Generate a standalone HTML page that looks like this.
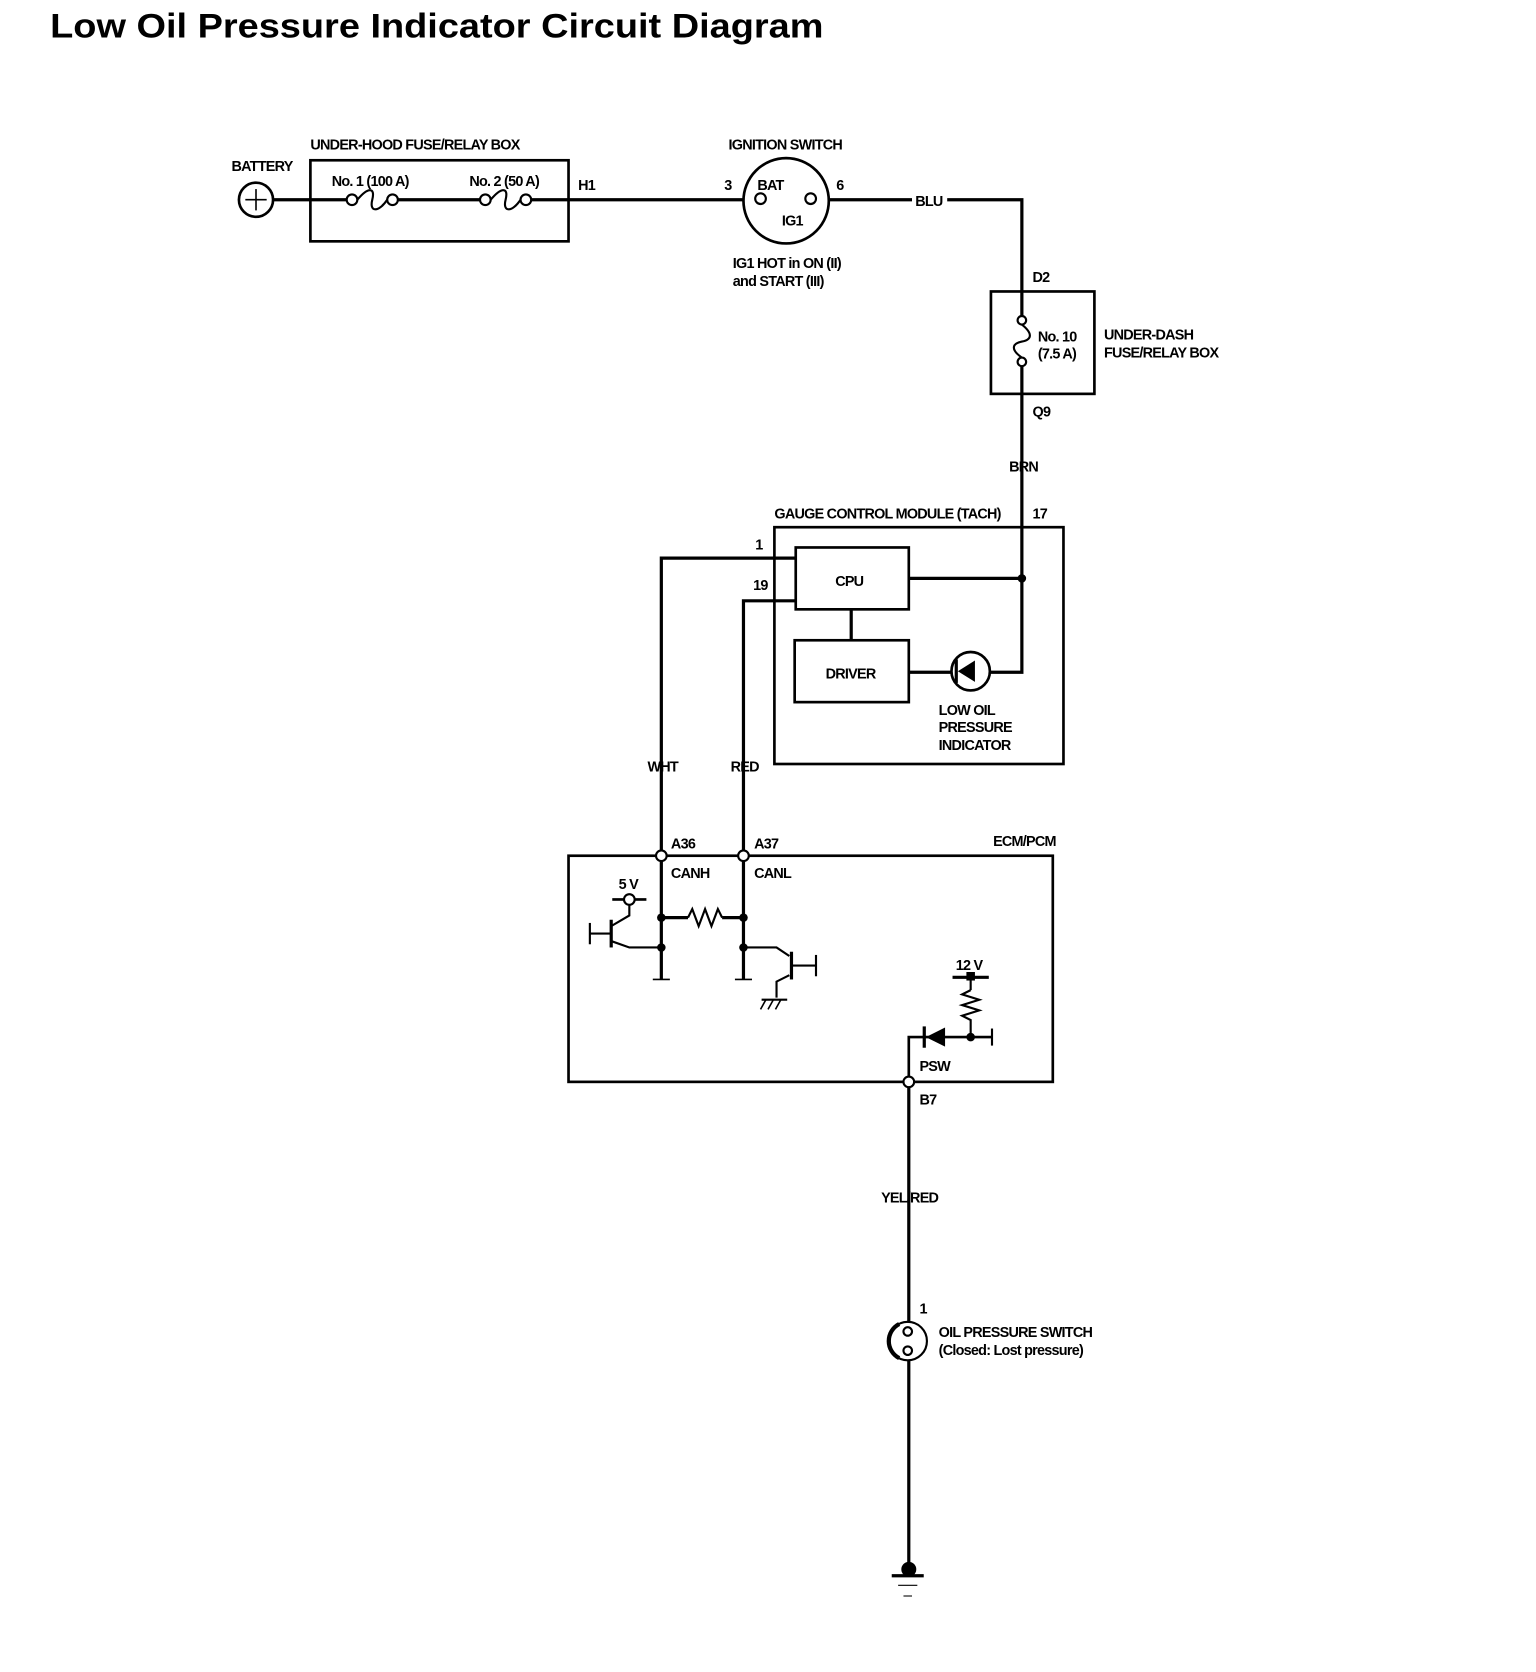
<!DOCTYPE html>
<html><head><style>
html,body{margin:0;padding:0;background:#fff;}
svg{display:block}
text{font-family:"Liberation Sans Narrow","Liberation Sans",sans-serif;font-weight:bold;font-size:13.5px;letter-spacing:-0.7px;fill:#000}
</style></head><body>
<svg width="1536" height="1672" viewBox="0 0 1440 1567" xmlns="http://www.w3.org/2000/svg">
<g fill="none" stroke="#000" stroke-width="3">
<circle cx="240" cy="187" r="16" stroke-width="2.5"/>
<line x1="230" y1="187" x2="250" y2="187" stroke-width="1.5"/><line x1="240" y1="177" x2="240" y2="197" stroke-width="1.5"/>
<rect x="291" y="150" width="242" height="76" stroke-width="2.5"/>
<line x1="256" y1="187" x2="325" y2="187"/>
<circle cx="330" cy="187" r="5" stroke-width="2"/>
<path d="M335 187 C345 175,352 175,349 187 C346 199,355 199,363 187" stroke-width="2"/>
<circle cx="368" cy="187" r="5" stroke-width="2"/>
<line x1="373" y1="187" x2="450" y2="187"/>
<circle cx="455" cy="187" r="5" stroke-width="2"/>
<path d="M460 187 C470 175,477 175,474 187 C471 199,480 199,488 187" stroke-width="2"/>
<circle cx="493" cy="187" r="5" stroke-width="2"/>
<line x1="498" y1="187" x2="698" y2="187"/>
<circle cx="737" cy="188" r="40" stroke-width="2.5"/>
<circle cx="713" cy="186" r="5" stroke-width="2"/>
<circle cx="760" cy="186" r="5" stroke-width="2"/>
<line x1="777" y1="187" x2="855" y2="187"/>
<polyline points="888,187 958,187 958,300"/>
<rect x="929" y="273" width="97" height="96" stroke-width="2.5"/>
<circle cx="958" cy="300" r="4" stroke-width="2" fill="#fff"/>
<path d="M958 304 C968 312,968 318,958 320 C948 322,948 328,958 335" stroke-width="2"/>
<circle cx="958" cy="339" r="4" stroke-width="2" fill="#fff"/>
<polyline points="958,343 958,630 928,630"/>
<rect x="726" y="494" width="271" height="222" stroke-width="2.5"/>
<rect x="746" y="513" width="106" height="58" stroke-width="2.5"/>
<rect x="745" y="600" width="107" height="58" stroke-width="2.5"/>
<line x1="798" y1="571" x2="798" y2="600"/>
<line x1="852" y1="542" x2="958" y2="542"/>
<line x1="852" y1="630" x2="892" y2="630"/>
<circle cx="910" cy="629" r="18" stroke-width="2.5"/>
<polyline points="620,802 620,523 746,523"/>
<polyline points="697,802 697,563 746,563"/>
<rect x="533" y="802" width="454" height="212" stroke-width="2.5"/>
<line x1="620" y1="807" x2="620" y2="918"/>
<line x1="697" y1="807" x2="697" y2="918"/>
<line x1="620" y1="860" x2="645" y2="860"/>
<path d="M645 860 L649 852 L655 868 L661 852 L667 868 L673 852 L677 860" stroke-width="2"/>
<line x1="677" y1="860" x2="697" y2="860"/>
<line x1="612" y1="918" x2="628" y2="918" stroke-width="1.5"/>
<line x1="689" y1="918" x2="705" y2="918" stroke-width="1.5"/>
<line x1="553" y1="865" x2="553" y2="885" stroke-width="2"/>
<line x1="553" y1="875" x2="573" y2="875" stroke-width="2"/>
<line x1="573" y1="862" x2="573" y2="888" stroke-width="3"/>
<polyline points="573,868 590,858 590,848" stroke-width="2"/>
<polyline points="573,882 590,888 620,888" stroke-width="2"/>
<circle cx="590" cy="843" r="5" stroke-width="2"/>
<line x1="574" y1="843" x2="585" y2="843" stroke-width="2.5"/>
<line x1="595" y1="843" x2="606" y2="843" stroke-width="2.5"/>
<polyline points="697,888 728,888 740,896" stroke-width="2"/>
<line x1="742" y1="892" x2="742" y2="918" stroke-width="3"/>
<polyline points="740,914 728,920 728,935" stroke-width="2"/>
<line x1="742" y1="905" x2="765" y2="905" stroke-width="2"/>
<line x1="765" y1="895" x2="765" y2="915" stroke-width="2"/>
<line x1="714" y1="937" x2="738" y2="937" stroke-width="2"/>
<path d="M718 937 l-5 9 M725 937 l-5 9 M732 937 l-5 9" stroke-width="1.5"/>
<line x1="893" y1="916" x2="927" y2="916" stroke-width="3"/>
<line x1="910" y1="916" x2="910" y2="928" stroke-width="2"/>
<path d="M910 928 L902 932 L918 937 L902 942 L918 947 L902 952 L910 956 L910 972" stroke-width="2"/>
<polyline points="852,1009 852,972 930,972" stroke-width="2.5"/>
<line x1="930" y1="964" x2="930" y2="980" stroke-width="2"/>
<circle cx="852" cy="1014" r="5" stroke-width="2" fill="#fff"/>
<line x1="852" y1="1019" x2="852" y2="1240"/>
<circle cx="851" cy="1257" r="18" stroke-width="2"/>
<path d="M843 1241 A18 18 0 0 0 843 1273" stroke-width="4"/>
<circle cx="851" cy="1248" r="4" stroke-width="2"/>
<circle cx="851" cy="1266" r="4" stroke-width="2"/>
<line x1="852" y1="1275" x2="852" y2="1472"/>
<line x1="836" y1="1477" x2="866" y2="1477" stroke-width="3"/>
<line x1="842" y1="1486" x2="860" y2="1486" stroke-width="1"/>
<line x1="847" y1="1496" x2="855" y2="1496" stroke-width="1"/>
<circle cx="620" cy="802" r="5" stroke-width="2" fill="#fff"/>
<circle cx="697" cy="802" r="5" stroke-width="2" fill="#fff"/>
</g>
<g fill="#000">
<circle cx="958" cy="542" r="4"/>
<circle cx="620" cy="860" r="4"/><circle cx="620" cy="888" r="4"/>
<circle cx="697" cy="860" r="4"/><circle cx="697" cy="888" r="4"/>
<circle cx="910" cy="972" r="4"/>
<circle cx="852" cy="1471" r="7"/>
<polygon points="898,629 914,619 914,639"/>
<rect x="895" y="618" width="3" height="22"/>
<polygon points="868,972 886,963 886,981"/>
<rect x="865" y="962" width="3" height="20"/>
<rect x="906" y="911" width="8" height="8"/>
</g>
<text x="47" y="35" style="font-family:'Liberation Sans',sans-serif;font-size:32px;letter-spacing:0" textLength="725" lengthAdjust="spacingAndGlyphs">Low Oil Pressure Indicator Circuit Diagram</text>
<text x="217" y="160">BATTERY</text>
<text x="291" y="140">UNDER-HOOD FUSE/RELAY BOX</text>
<text x="311" y="174">No. 1 (100 A)</text>
<text x="440" y="174">No. 2 (50 A)</text>
<text x="542" y="178">H1</text>
<text x="683" y="140">IGNITION SWITCH</text>
<text x="679" y="178">3</text>
<text x="710" y="178">BAT</text>
<text x="784" y="178">6</text>
<text x="733" y="211">IG1</text>
<text x="687" y="251">IG1 HOT in ON (II)</text>
<text x="687" y="268">and START (III)</text>
<text x="858" y="193">BLU</text>
<text x="968" y="264">D2</text>
<text x="973" y="320">No. 10</text>
<text x="973" y="336">(7.5 A)</text>
<text x="1035" y="318">UNDER-DASH</text>
<text x="1035" y="335">FUSE/RELAY BOX</text>
<text x="968" y="390">Q9</text>
<text x="946" y="442">BRN</text>
<text x="726" y="486">GAUGE CONTROL MODULE (TACH)</text>
<text x="968" y="486">17</text>
<text x="708" y="515">1</text>
<text x="706" y="553">19</text>
<text x="783" y="549">CPU</text>
<text x="774" y="636">DRIVER</text>
<text x="880" y="670">LOW OIL</text>
<text x="880" y="686">PRESSURE</text>
<text x="880" y="703">INDICATOR</text>
<text x="607" y="723">WHT</text>
<text x="685" y="723">RED</text>
<text x="931" y="793">ECM/PCM</text>
<text x="629" y="795">A36</text>
<text x="707" y="795">A37</text>
<text x="629" y="823">CANH</text>
<text x="707" y="823">CANL</text>
<text x="580" y="833">5 V</text>
<text x="896" y="909">12 V</text>
<text x="862" y="1004">PSW</text>
<text x="862" y="1035">B7</text>
<text x="826" y="1127">YEL/RED</text>
<text x="862" y="1231">1</text>
<text x="880" y="1253">OIL PRESSURE SWITCH</text>
<text x="880" y="1270">(Closed: Lost pressure)</text>
</svg>
</body></html>
